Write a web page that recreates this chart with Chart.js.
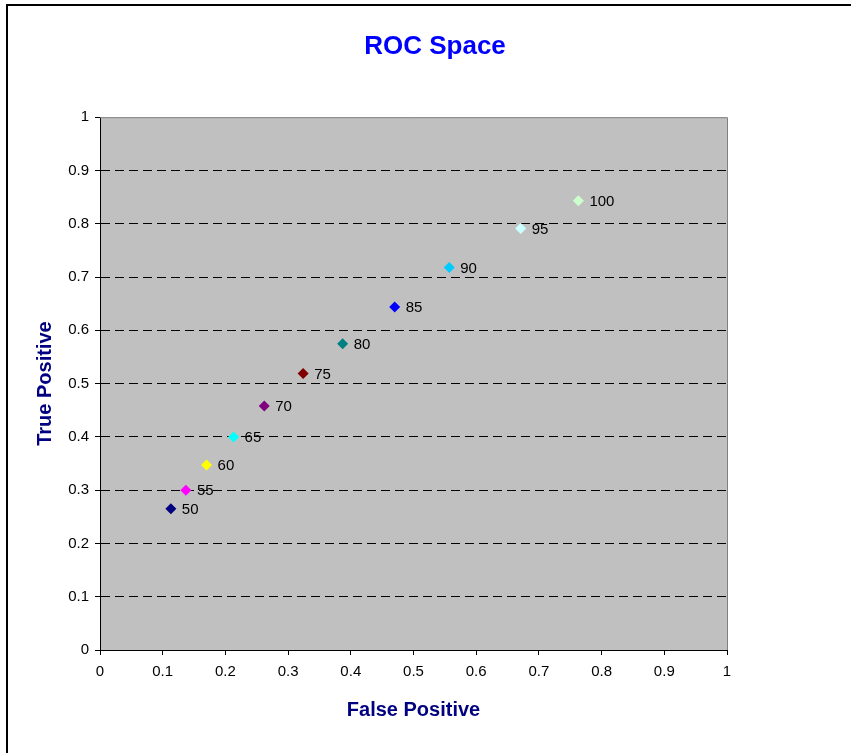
<!DOCTYPE html>
<html>
<head>
<meta charset="utf-8">
<title>ROC Space</title>
<script src="https://cdn.jsdelivr.net/npm/chart.js@4/dist/chart.umd.min.js"></script>
<style>
  body { margin: 0; background: #fff; }
  canvas { display: block; }
</style>
</head>
<body>
<canvas id="rocChart" width="851" height="753"></canvas>
<script>
// threshold of each point, and its false / true positive rates
var thresholds = ["50", "55", "60", "65", "70", "75", "80", "85", "90", "95", "100"];
var falsePos = [0.113, 0.137, 0.170, 0.213, 0.262, 0.324, 0.387, 0.470, 0.557, 0.671, 0.763];
var truePos = [0.265, 0.300, 0.347, 0.400, 0.458, 0.519, 0.575, 0.644, 0.718, 0.791, 0.843];
var pointColors = ["#000080", "#FF00FF", "#FFFF00", "#00FFFF", "#800080", "#800000",
    "#008080", "#0000FF", "#00CCFF", "#CCFFFF", "#CCFFCC"];
var axisTicks = [0, 0.1, 0.2, 0.3, 0.4, 0.5, 0.6, 0.7, 0.8, 0.9, 1];
var tickLabels = ["0", "0.1", "0.2", "0.3", "0.4", "0.5", "0.6", "0.7", "0.8", "0.9", "1"];

var fontFamily = "Arial, 'Liberation Sans', sans-serif";

var points = [];
for (var i = 0; i < falsePos.length; i++) {
    points.push({x: falsePos[i], y: truePos[i]});
}

// grey plot area, its grey top/right edge and the outer frame
var plotBackground = {
    id: 'plotBackground',
    beforeDraw: function (chart) {
        var ctx = chart.ctx;
        var a = chart.chartArea;
        ctx.save();
        ctx.fillStyle = '#FFFFFF';
        ctx.fillRect(0, 0, chart.width, chart.height);
        ctx.fillStyle = '#C0C0C0';
        ctx.fillRect(a.left, a.top, a.right - a.left, a.bottom - a.top);
        ctx.strokeStyle = '#000000';
        ctx.lineWidth = 2;
        ctx.strokeRect(7, 5, 900, 900);
        ctx.restore();
    },
    beforeDatasetsDraw: function (chart) {
        var ctx = chart.ctx;
        var a = chart.chartArea;
        ctx.save();
        ctx.strokeStyle = '#808080';
        ctx.lineWidth = 1;
        ctx.beginPath();
        ctx.moveTo(a.left, a.top + 0.5);
        ctx.lineTo(a.right + 0.5, a.top + 0.5);
        ctx.lineTo(a.right + 0.5, a.bottom);
        ctx.stroke();
        ctx.restore();
    }
};

// threshold written to the right of each diamond
var pointLabels = {
    id: 'pointLabels',
    afterDatasetsDraw: function (chart) {
        var ctx = chart.ctx;
        var meta = chart.getDatasetMeta(0);
        ctx.save();
        ctx.font = '15px ' + fontFamily;
        ctx.fillStyle = '#000000';
        ctx.textBaseline = 'middle';
        ctx.textAlign = 'left';
        meta.data.forEach(function (el, i) {
            ctx.fillText(thresholds[i], el.x + 11, el.y + 1);
        });
        ctx.restore();
    }
};

function fixedTicks(scale) {
    scale.ticks = axisTicks.map(function (v) { return {value: v}; });
}

function tickText(value, index) {
    return tickLabels[index];
}

var ctx = document.getElementById('rocChart').getContext('2d');
var rocChart = new Chart(ctx, {
    type: 'scatter',
    data: {
        datasets: [{
            label: 'ROC',
            data: points,
            pointStyle: 'rectRot',
            pointRadius: 5.5,
            pointHoverRadius: 5.5,
            borderWidth: 0,
            pointBorderWidth: 0,
            pointBackgroundColor: pointColors,
            pointBorderColor: pointColors
        }]
    },
    options: {
        responsive: false,
        animation: false,
        layout: {
            padding: {left: 19, right: 0, top: 0, bottom: 0}
        },
        plugins: {
            legend: {display: false},
            tooltip: {enabled: false},
            title: {
                display: true,
                text: 'ROC Space',
                color: '#0000FF',
                font: {family: fontFamily, size: 26, weight: 'bold'},
                padding: {top: 31, bottom: 55}
            }
        },
        scales: {
            x: {
                type: 'linear',
                min: 0,
                max: 1,
                afterBuildTicks: fixedTicks,
                afterFit: function (scale) {
                    scale.height = 103;
                },
                grid: {
                    drawOnChartArea: false,
                    drawTicks: true,
                    tickLength: 5,
                    tickColor: '#000000',
                    tickWidth: 1
                },
                border: {display: true, color: '#000000', width: 1},
                ticks: {
                    color: '#000000',
                    padding: 8,
                    maxRotation: 0,
                    callback: tickText,
                    font: {family: fontFamily, size: 15}
                },
                title: {
                    display: true,
                    text: 'False Positive',
                    color: '#000080',
                    font: {family: fontFamily, size: 20, weight: 'bold'},
                    padding: {top: 0, bottom: 31}
                }
            },
            y: {
                type: 'linear',
                min: 0,
                max: 1,
                afterBuildTicks: fixedTicks,
                afterFit: function (scale) {
                    scale.width = 81;
                },
                grid: {
                    drawOnChartArea: true,
                    drawTicks: true,
                    tickLength: 5,
                    tickWidth: 1,
                    tickColor: '#000000',
                    color: function (c) {
                        if (c.tick && (c.tick.value === 0 || c.tick.value === 1)) return 'rgba(0,0,0,0)';
                        return '#000000';
                    }
                },
                border: {display: true, color: '#000000', width: 1, dash: [9, 5]},
                ticks: {
                    color: '#000000',
                    padding: 6,
                    callback: tickText,
                    font: {family: fontFamily, size: 15}
                },
                title: {
                    display: true,
                    text: 'True Positive',
                    color: '#000080',
                    font: {family: fontFamily, size: 20, weight: 'bold'},
                    padding: {top: 14, bottom: 0}
                }
            },
            yRight: {
                type: 'linear',
                position: 'right',
                display: true,
                afterFit: function (scale) {
                    scale.width = 124;
                },
                grid: {display: false, drawTicks: false},
                border: {display: false},
                ticks: {display: false},
                title: {display: false}
            }
        }
    },
    plugins: [plotBackground, pointLabels]
});
</script>
</body>
</html>
